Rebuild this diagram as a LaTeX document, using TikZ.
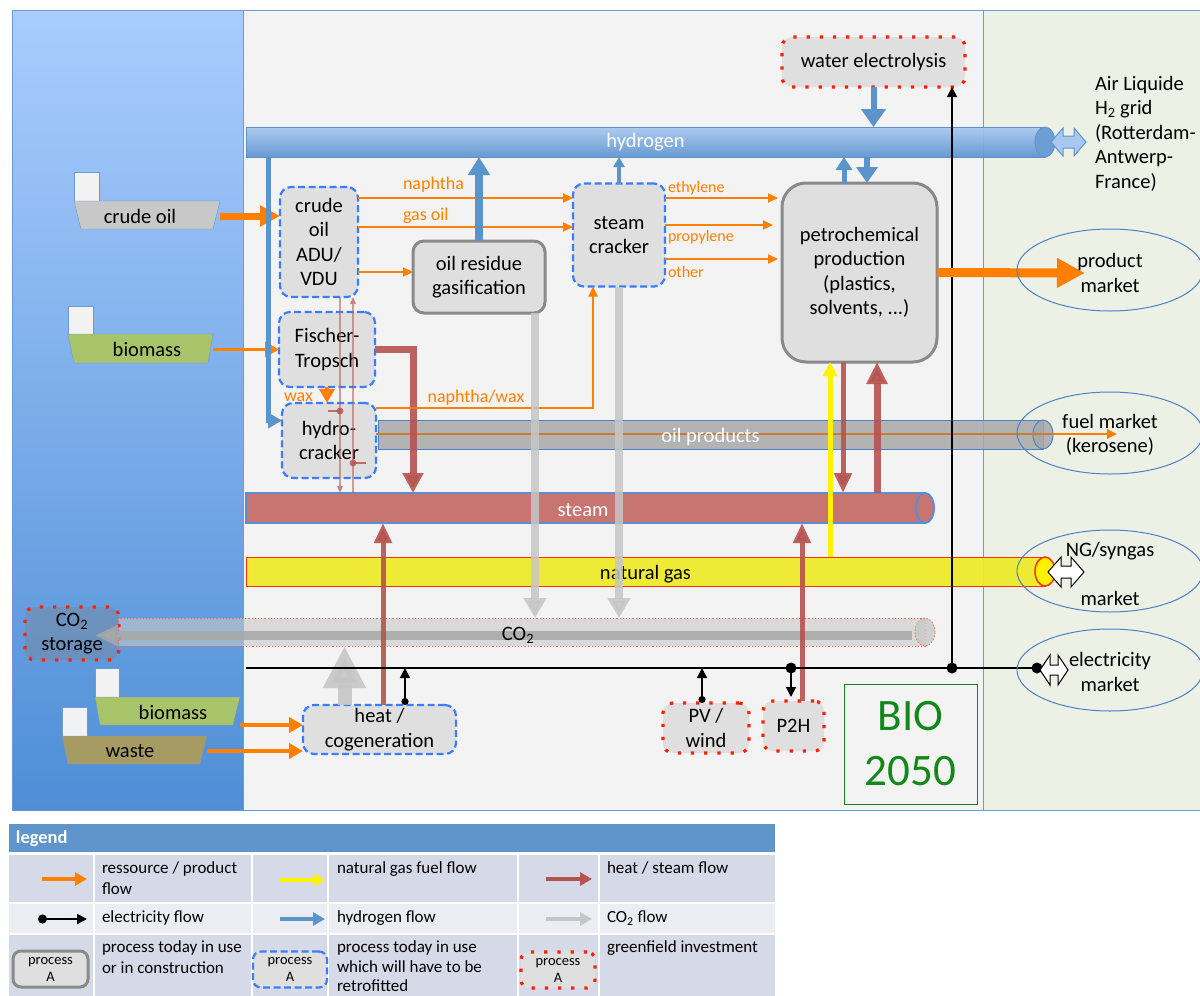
\documentclass[tikz,border=0pt]{standalone}
\usepackage{fontspec}
\setmainfont{Carlito}
\usetikzlibrary{arrows.meta,calc,shapes.geometric}
\definecolor{lpanA}{HTML}{A9CCFD}
\definecolor{lpanB}{HTML}{4E8ED6}
\definecolor{midbg}{HTML}{F3F3F3}
\definecolor{rbg}{HTML}{EDF0E4}
\definecolor{frame}{HTML}{6B9BD2}
\definecolor{oran}{HTML}{FF8000}
\definecolor{oranD}{HTML}{CD7A32}
\definecolor{h2a}{HTML}{A8C8F0}
\definecolor{h2b}{HTML}{5C93CF}
\definecolor{h2line}{HTML}{5B93CB}
\definecolor{heat}{HTML}{B5534F}
\definecolor{steamf}{HTML}{C87572}
\definecolor{pipeb}{HTML}{5B8FD0}
\definecolor{ngf}{HTML}{EEEA2C}
\definecolor{ngl}{HTML}{FF3300}
\definecolor{co2f}{HTML}{C8C8C8}
\definecolor{co2d}{HTML}{A8A8A8}
\definecolor{co2a}{HTML}{C6C6C6}
\definecolor{boxg}{HTML}{DFDFDF}
\definecolor{procg}{HTML}{8A8A8A}
\definecolor{dashb}{HTML}{3A7DFF}
\definecolor{dotr}{HTML}{FF2000}
\definecolor{biog}{HTML}{A8C46A}
\definecolor{wastec}{HTML}{A59B63}
\definecolor{crudec}{HTML}{C8C8C8}
\definecolor{oilp}{HTML}{A8A8A8}
\definecolor{elli}{HTML}{4A82C8}
\definecolor{biogrn}{HTML}{13881A}
\definecolor{leghd}{HTML}{5F95CB}
\definecolor{legA}{HTML}{D6DAE8}
\definecolor{legB}{HTML}{EBEDF3}
\definecolor{sqf}{HTML}{F2F2F2}
\newcommand\fnM{\fontsize{20.5}{24.5}\selectfont}
\newcommand\fnL{\fontsize{18}{21}\selectfont}
\newcommand\fnS{\fontsize{16}{19}\selectfont}
\newcommand\fnG{\fontsize{17}{20.5}\selectfont}
\newcommand\fnP{\fontsize{14.5}{17}\selectfont}
\tikzset{
  every node/.style={inner sep=0pt,outer sep=0pt},
  proc/.style={rounded corners=11pt,fill=boxg,draw=procg,line width=3pt,align=center,font=\fnM},
  retro/.style={rounded corners=11pt,fill=boxg,draw=dashb,line width=2.2pt,dash pattern=on 7pt off 3.5pt,align=center,font=\fnM},
  grnf/.style={rounded corners=10pt,fill=boxg,draw=dotr,line width=3.2pt,dash pattern=on 3.2pt off 10pt,align=center,font=\fnM},
  pipe/.style={rectangle,align=center,font=\fnM},
  mkt/.style={ellipse,draw=elli,line width=1pt,minimum width=186pt,minimum height=82pt},
  mtxt/.style={align=center,font=\fnM},
  res/.style={font=\fnM},
  olab/.style={text=oran,font=\fnL,anchor=west},
  olabS/.style={text=oran,font=\fnS,anchor=west},
  legtxt/.style={anchor=north west,align=left,font=\fnG},
  oBig/.style={draw=oran,line width=7pt,-{Triangle[length=20pt,width=20pt]}},
  oBigB/.style={draw=oran,line width=9pt,-{Triangle[length=28pt,width=28pt]}},
  oMid/.style={draw=oran,line width=3.5pt,-{Triangle[length=14pt,width=15pt]}},
  oThin/.style={draw=oran,line width=2.2pt,-{Triangle[length=10pt,width=9pt]}},
  hBig/.style={draw=h2line,line width=8pt,-{Triangle[length=18pt,width=21pt]}},
  hSmall/.style={draw=h2line,line width=4pt,-{Triangle[length=10pt,width=11pt]}},
  hMid/.style={draw=h2line,line width=5pt,-{Triangle[length=13pt,width=16pt]}},
  hMidB/.style={draw=h2line,line width=6.5pt,-{Triangle[length=16pt,width=21pt]}},
  hWE/.style={draw=h2line,line width=6pt,-{Triangle[length=18pt,width=24pt]}},
  hElb/.style={draw=h2line,line width=5pt,-{Triangle[length=14pt,width=15pt]}},
  rBig/.style={draw=heat,line width=7pt,opacity=0.9,-{Triangle[length=20pt,width=20pt]}},
  rBigB/.style={draw=heat,line width=7pt,opacity=0.9,-{Triangle[length=22pt,width=20pt]}},
  rMid/.style={draw=heat,line width=5pt,opacity=0.9,-{Triangle[length=20pt,width=17pt]}},
  rThin/.style={draw=heat,line width=1.3pt,opacity=0.55,-{Triangle[length=7pt,width=6pt]}},
  cArr/.style={draw=co2a,line width=8pt,opacity=0.85,-{Triangle[length=20pt,width=22pt]}},
  cBig/.style={draw=co2a,line width=14pt,opacity=0.9,-{Triangle[length=42pt,width=40pt]}},
  cBand/.style={draw=co2d,line width=9pt,opacity=0.85,-{Triangle[length=23pt,width=20pt]}},
  ngA/.style={draw=yellow,line width=5pt,-{Triangle[length=14pt,width=14pt]}},
  eLine/.style={draw=black,line width=2pt},
  eArr/.style={draw=black,line width=1.8pt,{Circle[length=7pt]}-{Triangle[length=10pt,width=10pt]}},
  eArrN/.style={draw=black,line width=1.8pt,-{Triangle[length=10pt,width=10pt]}},
  dbl/.style={line width=1pt,line join=miter}
}
\begin{document}
\begin{tikzpicture}[x=1pt,y=-1pt]
\useasboundingbox (0,0) rectangle (1200,996);
\fill[white] (0,0) rectangle (1200,996);
% panels
\fill[midbg] (243,10) rectangle (983,810);
\fill[rbg] (983,10) rectangle (1200,810);
\shade[top color=lpanA,bottom color=lpanB] (12,10) rectangle (243,810);
\draw[frame,line width=1pt] (1200,10) -- (12,10) -- (12,810) -- (1200,810);
\draw[frame,line width=1pt] (243,10) -- (243,810);
\draw[frame,line width=1pt] (983,10) -- (983,810);

% helper coordinates
\coordinate (yNap) at (0,198);
\coordinate (yGas) at (0,227);
\coordinate (yRes) at (0,272);
\coordinate (yEth) at (0,198);
\coordinate (yPro) at (0,225);
\coordinate (yOth) at (0,259);
\coordinate (xH) at (268,0);
\coordinate (xFT) at (413,0);
\coordinate (xNW) at (593,0);
\coordinate (xT1) at (340,0);
\coordinate (xT2) at (353,0);
\coordinate (xY) at (830,0);
\coordinate (xR1) at (843,0);
\coordinate (xR2) at (877,0);
\coordinate (oilEnd) at (1053,434);
\coordinate (fuelTip) at (1117,434);
\coordinate (prodTip) at (1085,273);
\coordinate (eL) at (246,668);
\coordinate (eR) at (1037,668);
\coordinate (eP) at (791,668);
\coordinate (eW) at (952,668);

% process boxes
\node (adu) [retro,minimum width=78pt,minimum height=110pt] at (319,242) {crude\\oil\\ADU/\\VDU};
\node (org) [proc,minimum width=132pt,minimum height=72pt] at (479,277) {oil residue\\gasification};
\node (sc) [retro,minimum width=92pt,minimum height=103pt] at (619,235) {steam\\cracker};
\node (petro) [proc,rounded corners=24pt,minimum width=155pt,minimum height=179pt] at (859.5,272.5) {petrochemical\\production\\(plastics,\\solvents, ...)};
\node (we) [grnf,minimum width=183pt,minimum height=50pt] at (873.5,62) {water electrolysis};
\node (ft) [retro,minimum width=96pt,minimum height=75pt] at (327,349.5) {Fischer-\\Tropsch};
\node (hc) [retro,minimum width=94pt,minimum height=75pt] at (329,440.5) {hydro-\\cracker};
\node (cogen) [retro,minimum width=153pt,minimum height=49pt] at (379.5,729.5) {heat /\\cogeneration};
\node (pv) [grnf,minimum width=86pt,minimum height=50pt] at (706,728) {PV /\\wind};
\node (p2h) [grnf,minimum width=61pt,minimum height=50pt] at (793.5,726) {P2H};
\node (bio) [draw=biogrn,line width=1pt,minimum width=133pt,minimum height=120pt,text=biogrn,align=center,font=\fontsize{45}{55}\selectfont] at (910.5,744) {BIO\\2050};

% pipes
\node (h2bar) [pipe,top color=h2a,bottom color=h2b,draw=h2b,line width=0.8pt,fill opacity=0.92,text opacity=1,text=white,minimum width=799pt,minimum height=30pt] at (645.5,142) {hydrogen};
\fill[h2b!90!white,draw=h2b,line width=0.8pt] (1045,142) ellipse [x radius=10pt,y radius=15pt];
\node (oilb) [pipe,fill=oilp,fill opacity=0.85,draw=elli,line width=1pt,minimum width=665pt,minimum height=29pt] at (710.5,434.5) {};
\draw[fill=oilp,fill opacity=0.85,draw=elli,line width=1pt] (1043,434.5) ellipse [x radius=10pt,y radius=14.5pt];
% orange flow through oil products pipe
\draw[draw=oranD,line width=2.5pt] ([yshift=6.5pt]hc.east) -- (oilEnd);
\draw[oThin,line width=2.5pt] (oilEnd) -- (fuelTip);
\node (oilT) [pipe,text=white] at (710.5,437) {oil products};
\node (steam) [pipe,fill=steamf,draw=pipeb,line width=2pt,minimum width=679pt,minimum height=30pt] at (585.5,508) {};
\node (steamT) [pipe,text=white] at (583,510) {steam};
\draw[fill=steamf,draw=pipeb,line width=2pt] (925,508) ellipse [x radius=9pt,y radius=15pt];
\node (ngb) [pipe,fill=ngf,fill opacity=0.95,draw=ngl,line width=1pt,minimum width=799pt,minimum height=29pt] at (645.5,571.5) {};
\node (ngT) [pipe] at (645.5,574) {natural gas};
\draw[fill=yellow,draw=ngl,line width=1.5pt] (1045,571.5) ellipse [x radius=10pt,y radius=14.5pt];
\node (co2b) [pipe,fill=co2f,fill opacity=0.6,draw=dotr!70,line width=0.8pt,dash pattern=on 1.2pt off 2pt,minimum width=807pt,minimum height=28pt] at (521.5,632) {};
\draw[fill=co2f,fill opacity=0.8,draw=dotr!70,line width=0.8pt,dash pattern=on 1.2pt off 2pt] (925,632) ellipse [x radius=10pt,y radius=14pt];
\node (co2s) [grnf,fill=gray,fill opacity=0.35,text opacity=1,minimum width=94pt,minimum height=53pt] at (72,633.5) {CO\textsubscript{2}\\storage};
\draw[cBand] ([xshift=-13pt,yshift=-3.5pt]co2b.east) -- ([xshift=-24pt,yshift=-2pt]co2s.east);
\node (co2T) [pipe] at (518,635) {CO\textsubscript{2}};

% resources
\draw[frame,fill=sqf] (74,172) rectangle (99,201);
\draw[frame,fill=crudec] (74,201) -- (220,201) -- (213,229) -- (81,229) -- cycle;
\node (crude) [res,minimum width=146pt,minimum height=28pt] at (147,216) {crude oil\hspace*{14pt}};
\draw[frame,fill=sqf] (68,306) rectangle (93,334);
\draw[frame,fill=biog] (68,334) -- (213,334) -- (208,363) -- (74,363) -- cycle;
\node (bio1) [res,minimum width=145pt,minimum height=29pt] at (140.5,349.5) {\hspace*{13pt}biomass};
\draw[frame,fill=sqf] (95,668) rectangle (119,697);
\draw[frame,fill=biog] (95,697) -- (240,697) -- (233,725) -- (100,725) -- cycle;
\node (bio2) [res,minimum width=145pt,minimum height=28pt] at (167.5,712) {\hspace*{11pt}biomass};
\draw[frame,fill=sqf] (62,707) rectangle (87,736);
\draw[frame,fill=wastec] (62,736) -- (207,736) -- (200,764) -- (68,764) -- cycle;
\node (waste) [res,minimum width=145pt,minimum height=28pt] at (134.5,751) {waste\hspace*{9pt}};

% resource flows
\draw[oBig] (crude.east) -- (crude.east -| adu.west);
\draw[oMid] (bio1.east) -- (bio1.east -| ft.west);
\draw[oMid] ([yshift=-13pt]bio2.east) -- ([yshift=-13pt]bio2.east -| cogen.west);
\draw[oMid] (waste.east) -- (waste.east -| cogen.west);

% ADU outputs
\draw[oThin] (adu.east |- yNap) -- (sc.west |- yNap);
\draw[oThin] (adu.east |- yGas) -- (sc.west |- yGas);
\draw[oThin] (adu.east |- yRes) -- (org.west |- yRes);
\node (lnap) [olab] at (403,185) {naphtha};
\node (lgas) [olab] at (403,216) {gas oil};
% steam cracker outputs
\draw[oThin] (sc.east |- yEth) -- ([xshift=-4pt]petro.west |- yEth);
\draw[oThin] (sc.east |- yPro) -- ([xshift=-9pt]petro.west |- yPro);
\draw[oThin] (sc.east |- yOth) -- ([xshift=-4pt]petro.west |- yOth);
\node (leth) [olabS] at (668,188) {ethylene};
\node (lpro) [olabS] at (668,237) {propylene};
\node (loth) [olabS] at (668,272) {other};

% hydrogen flows
\draw[hBig] (org.north) -- (org.north |- h2bar.south);
\draw[hSmall] (sc.north) -- (sc.north |- h2bar.south);
\draw[hMid] ([xshift=-15.5pt]petro.north) -- ([xshift=-15.5pt]petro.north |- h2bar.south);
\draw[hMidB] ([xshift=7.5pt]petro.north |- h2bar.south) -- ([xshift=7.5pt]petro.north);
\draw[hWE] (we.south) -- (we.south |- h2bar.north);
\draw[hElb] (h2bar.south -| xH) |- ([yshift=20pt]hc.west);

% FT / hydrocracker
\draw[oMid] (ft.south) -- (ft.south |- hc.north);
\node (lwax) [olab] at (284,397) {wax};
\draw[rBig] (ft.east) -| (steam.north -| xFT);
\draw[oThin] ([yshift=32.5pt]hc.east) -| (sc.south -| xNW);
\node (lnw) [text=oran,font=\fnL] at (476,398) {naphtha/wax};
\draw[rThin] (adu.south -| xT1) -- (steam.north -| xT1);
\draw[rThin] (steam.north -| xT2) -- (adu.south -| xT2);
\draw[heat,line width=1.5pt,opacity=0.8] (328,411) -- (340,411);
\fill[heat,opacity=0.8] (340,411) circle (3.5pt);
\draw[heat,line width=1.5pt,opacity=0.8] (353,463) -- (366,463);
\fill[heat,opacity=0.8] (353,463) circle (3.5pt);

% CO2 flows
\draw[cArr] ([xshift=56pt]org.south) -- ([xshift=56pt]org.south |- co2b.north);
\draw[cArr] (sc.south) -- (sc.south |- co2b.north);
\draw[cBig] ([xshift=-35pt]cogen.north) -- ([xshift=-35pt]cogen.north |- co2b.south);

% heat flows
\draw[rMid] ([xshift=3.5pt]cogen.north) -- ([xshift=3.5pt]cogen.north |- steam.south);
\draw[rMid] ([xshift=8.5pt]p2h.north) -- ([xshift=8.5pt]p2h.north |- steam.south);
\draw[ngA] (ngb.north -| xY) -- (petro.south -| xY);
\draw[rMid] (petro.south -| xR1) -- (steam.north -| xR1);
\draw[rBigB] (steam.north -| xR2) -- (petro.south -| xR2);

% electricity
\draw[eLine] (eL) -- (eR);
\fill (eP) circle (5.5pt);
\fill (eW) circle (5.5pt);
\fill (eR) circle (5.5pt);
\draw[eArr] ([xshift=25.5pt]cogen.north) -- ([xshift=25.5pt]cogen.north |- eL);
\draw[eArr] ([xshift=-4pt]pv.north) -- ([xshift=-4pt]pv.north |- eL);
\draw[eArrN] (eP) -- ([yshift=4pt]eP |- p2h.north);
\draw[eArrN] (eW) -- (eW |- we.south);

% product
\draw[oBigB] (petro.east) -- (prodTip);

% markets
\node (prod) [mkt] at (1110,270) {};
\node (prodT) [mtxt] at (1110,273) {product\\market};
\node (fuel) [mkt] at (1110,433) {};
\node (fuelT) [mtxt] at (1110,435) {fuel market\\(kerosene)};
\node (ngm) [mkt] at (1110,571) {};
\node (ngmT) [mtxt] at (1110,574) {NG/syngas\\[24pt]market};
\node (elm) [mkt] at (1110,670) {};
\node (elmT) [mtxt] at (1110,672) {electricity\\market};
\node (airl) [anchor=north west,align=left,font=\fnM] at (1095,76) {Air Liquide\\H\textsubscript{2} grid\\(Rotterdam-\\Antwerp-\\France)};

% double arrows
\draw[dbl,fill=h2a,draw=h2b] (1051,142) -- (1063,128) -- (1063,136) -- (1074,136) -- (1074,128) -- (1086,142) -- (1074,156) -- (1074,148) -- (1063,148) -- (1063,156) -- cycle;
\draw[dbl,fill=white,draw=black] (1048,572) -- (1061,557) -- (1061,566) -- (1071,566) -- (1071,557) -- (1084,572) -- (1071,587) -- (1071,578) -- (1061,578) -- (1061,587) -- cycle;
\draw[dbl,fill=white,draw=black] (1040,670) -- (1050,655) -- (1050,665) -- (1058,665) -- (1058,655) -- (1068,670) -- (1058,685) -- (1058,675) -- (1050,675) -- (1050,685) -- cycle;

% legend
\fill[leghd] (9,824) rectangle (775,852);
\node (legT) [anchor=west,text=white,font=\fontsize{18.5}{22}\selectfont\bfseries] at (16,839) {legend};
\fill[legA] (9,855) rectangle (775,902);
\fill[legB] (9,904) rectangle (775,933);
\fill[legA] (9,935) rectangle (775,996);
\foreach \x in {94,252,328,518,599} \draw[white,line width=2pt] (\x,853) -- (\x,996);
\draw[draw=oran,line width=4pt,-{Triangle[length=12pt,width=13pt]}] (42,879) -- (87,879);
\draw[draw=yellow,line width=4pt,-{Triangle[length=12pt,width=13pt]}] (280,880) -- (325,880);
\draw[draw=heat,line width=4pt,-{Triangle[length=12pt,width=13pt]}] (546,879) -- (592,879);
\draw[draw=black,line width=2pt,{Circle[length=9pt]}-{Triangle[length=10pt,width=10pt]}] (38,919) -- (87,919);
\draw[draw=h2line,line width=4pt,-{Triangle[length=12pt,width=13pt]}] (280,919) -- (325,919);
\draw[draw=co2a,line width=4pt,-{Triangle[length=12pt,width=13pt]}] (546,919) -- (592,919);
\node (lt1) [legtxt] at (102,862) {ressource / product\\flow};
\node (lt2) [legtxt] at (337,862) {natural gas fuel flow};
\node (lt3) [legtxt] at (607,862) {heat / steam flow};
\node (lt4) [legtxt] at (102,911) {electricity flow};
\node (lt5) [legtxt] at (337,911) {hydrogen flow};
\node (lt6) [legtxt] at (607,911) {CO\textsubscript{2} flow};
\node (lt7) [legtxt] at (102,941) {process today in use\\or in construction};
\node (lt8) [legtxt,font=\fontsize{17}{19.5}\selectfont] at (337,941) {process today in use\\which will have to be\\retrofitted};
\node (lt9) [legtxt] at (607,941) {greenfield investment};
\node (lp1) [proc,rounded corners=8pt,minimum width=75pt,minimum height=36pt,font=\fnP] at (50.5,969) {process\\A};
\node (lp2) [retro,rounded corners=8pt,minimum width=74pt,minimum height=36pt,font=\fnP] at (290,969.5) {process\\A};
\node (lp3) [grnf,rounded corners=8pt,minimum width=74pt,minimum height=36pt,font=\fnP] at (558,970) {process\\A};
\end{tikzpicture}
\end{document}
